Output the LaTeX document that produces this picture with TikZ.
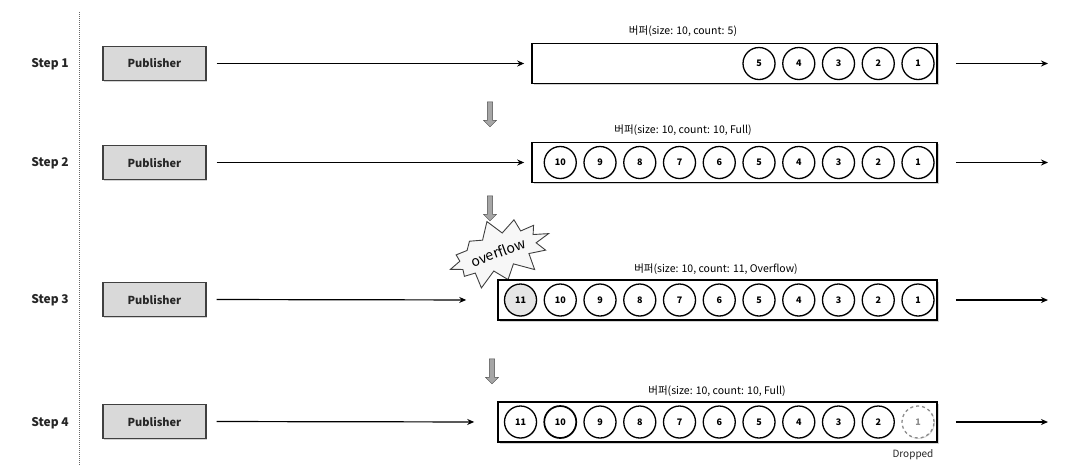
\documentclass[tikz,border=0pt]{standalone}
\usepackage{fontspec}
\setmainfont{Noto Sans CJK KR}
\usetikzlibrary{shapes.arrows,shapes.symbols,shadows,arrows.meta}
\begin{document}
\begin{tikzpicture}[x=1pt,y=-1pt,
  steplbl/.style={font=\bfseries\fontsize{12}{14}\selectfont,inner sep=0pt,text=black!85},
  pub/.style={draw=black!75,line width=1.1pt,fill=black!15,minimum width=103pt,minimum height=34pt,inner sep=0pt,
    font=\bfseries\fontsize{11}{13}\selectfont,text=black!85,drop shadow={shadow xshift=1.2pt,shadow yshift=-1.2pt,opacity=0.35}},
  buf/.style={draw=black,line width=1.6pt,fill=white,inner sep=0pt,minimum height=40pt,
    drop shadow={shadow xshift=1.5pt,shadow yshift=-1.5pt,opacity=0.35}},
  buflbl/.style={font=\fontsize{10.5}{12}\selectfont,inner sep=0pt},
  ball/.style={circle,draw=black,line width=1.3pt,minimum size=32pt,inner sep=0pt,fill=white,
    font=\bfseries\fontsize{9}{10}\selectfont,drop shadow={shadow xshift=0.8pt,shadow yshift=-0.8pt,opacity=0.3}},
  flow/.style={-{Stealth[length=7pt,width=6pt]},line width=1.2pt},
  downarrow/.style={single arrow,draw=black!70,fill=black!35,shape border rotate=270,minimum width=13pt,
    minimum height=25pt,single arrow head extend=2.5pt,single arrow head indent=0pt,inner sep=1.5pt}
]
\useasboundingbox (0,0) rectangle (1065,467);
% separator
\coordinate (sepTop) at (79,12);
\coordinate (sepBot) at (79,466);
\draw[black!60,line width=0.8pt,dash pattern=on 1pt off 1pt] (sepTop) -- (sepBot);

% ---------- Step 1 ----------
\node[steplbl] (s1) at (50,64) {Step 1};
\node[pub] (p1) at (154.5,63.5) {Publisher};
\node[buf,minimum width=405pt] (q1) at (734.5,63.5) {};
\node[buflbl] (l1) at (683,31) {버퍼(size: 10, count: 5)};
\foreach \n [count=\i from 0] in {1,2,3,4,5}{
  \node[ball] (b1-\n) at (918-39.75*\i,63.5) {\n};
}
\coordinate (o1) at (1048,63.5);
\draw[flow,shorten <=10pt,shorten >=7pt] (p1.east) -- (q1.west);
\draw[flow,shorten <=18pt] (q1.east) -- (o1);

\node[downarrow] (d1) at (490,113) {};

% ---------- Step 2 ----------
\node[steplbl] (s2) at (50,163) {Step 2};
\node[pub] (p2) at (154.5,162.5) {Publisher};
\node[buf,minimum width=405pt] (q2) at (734.5,162.5) {};
\node[buflbl] (l2) at (683,130) {버퍼(size: 10, count: 10, Full)};
\foreach \n [count=\i from 0] in {1,...,10}{
  \node[ball] (b2-\n) at (918-39.75*\i,162.5) {\n};
}
\coordinate (o2) at (1048,162.5);
\draw[flow,shorten <=10pt,shorten >=7pt] (p2.east) -- (q2.west);
\draw[flow,shorten <=18pt] (q2.east) -- (o2);

\node[downarrow] (d2) at (490,207) {};

% ---------- Step 3 ----------
\node[starburst,draw=black!75,fill=black!3,line width=0.9pt,minimum width=104pt,minimum height=68pt,
  starburst points=12,starburst point height=17pt,random starburst=7,rotate=20,
  font=\fontsize{14}{16}\selectfont,inner sep=0pt] (burst) at (498,252) {overflow};
\node[steplbl] (s3) at (50,300) {Step 3};
\node[pub] (p3) at (154.5,299.5) {Publisher};
\node[buf,minimum width=439pt] (q3) at (717.5,300) {};
\node[buflbl] (l3) at (716,269) {버퍼(size: 10, count: 11, Overflow)};
\foreach \n [count=\i from 0] in {1,...,10}{
  \node[ball] (b3-\n) at (918-39.75*\i,300) {\n};
}
\node[ball,fill=black!10] (b3-11) at (918-39.75*10,300) {11};
\coordinate (o3) at (1048,300);
\draw[flow,shorten <=10pt,shorten >=31pt] (p3.east) -- (q3.west);
\draw[flow,shorten <=18pt] (q3.east) -- (o3);

\node[downarrow] (d3) at (492,370) {};

% ---------- Step 4 ----------
\node[steplbl] (s4) at (50,423) {Step 4};
\node[pub] (p4) at (154.5,421.5) {Publisher};
\node[buf,minimum width=439pt] (q4) at (717.5,422) {};
\node[buflbl] (l4) at (717,391) {버퍼(size: 10, count: 10, Full)};
\foreach \n [count=\i from 1] in {2,...,9}{
  \node[ball] (b4-\n) at (918-39.75*\i,422) {\n};
}
\node[ball,line width=1.7pt] (b4-10) at (918-39.75*9,422) {10};
\node[ball] (b4-11) at (918-39.75*10,422) {11};
\node[ball,draw=black!45,dashed,text=black!45,drop shadow={opacity=0}] (b4-1) at (918,422) {1};
\node[font=\fontsize{10}{12}\selectfont,inner sep=0pt,text=black!85] (drop) at (913,455) {Dropped};
\coordinate (o4) at (1048,422);
\draw[flow,shorten <=10pt,shorten >=23pt] (p4.east) -- (q4.west);
\draw[flow,shorten <=18pt] (q4.east) -- (o4);
\end{tikzpicture}
\end{document}
